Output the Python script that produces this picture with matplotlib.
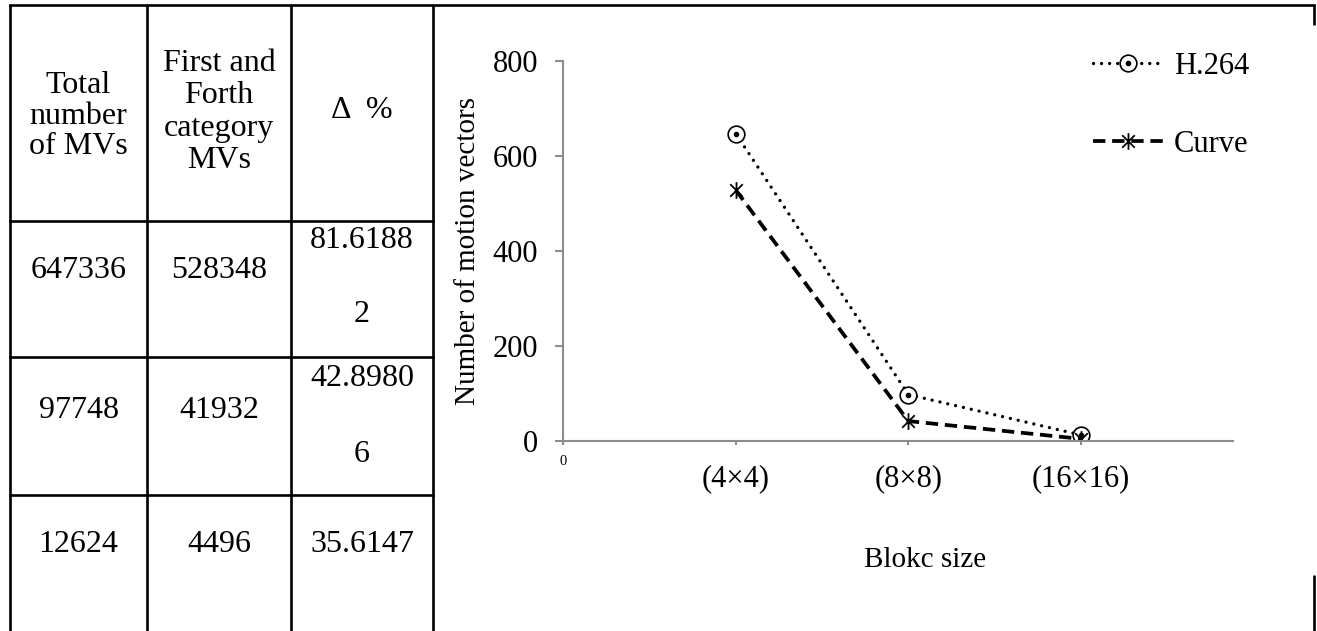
import matplotlib.pyplot as plt
from matplotlib.path import Path
import textwrap

plt.rcParams['font.family'] = ['Liberation Serif', 'DejaVu Serif']

# data
total_mvs = [647336, 97748, 12624]
first_forth_mvs = [528348, 41932, 4496]
delta_pct = ["81.61882", "42.89806", "35.6147"]
headers = ["Total\nnumber\nof MVs", "First and\nForth\ncategory\nMVs", "\u0394  %"]
block_sizes = ["(4\u00d74)", "(8\u00d78)", "(16\u00d716)"]
h264_vals = [v / 1000 for v in total_mvs]
curve_vals = [v / 1000 for v in first_forth_mvs]

W, H = 1317, 631
fig = plt.figure(figsize=(W / 100, H / 100), dpi=100)

# ---- table drawn on a full-figure pixel axes ----
bg = fig.add_axes([0, 0, 1, 1])
bg.set_xlim(0, W)
bg.set_ylim(H, 0)
bg.axis('off')

col_x = [10, 147, 291, 433]
row_y = [5, 221, 357, 495]
lw = 1.9
for x in col_x:
    bg.plot([x, x], [row_y[0], H], color='black', lw=lw, solid_capstyle='butt')
for y in row_y[1:]:
    bg.plot([col_x[0], col_x[-1]], [y, y], color='black', lw=lw)
bg.plot([col_x[0], 1314], [5, 5], color='black', lw=lw)
bg.plot([1314, 1314], [5, 25], color='black', lw=lw, solid_capstyle='butt')
bg.plot([1314, 1314], [575, H], color='black', lw=lw, solid_capstyle='butt')

fs = 23
centers = [(col_x[i] + col_x[i + 1]) / 2 for i in range(3)]
header_y = [116, 112, 110]
header_ls = [1.08, 1.16, 1.0]
for i, h in enumerate(headers):
    bg.text(centers[i], header_y[i], h, ha='center', va='center', fontsize=fs,
            linespacing=header_ls[i])

row_c = [271, 410, 545]
for r in range(3):
    bg.text(centers[0], row_c[r], str(total_mvs[r]), ha='center', va='center', fontsize=fs)
    bg.text(centers[1], row_c[r], str(first_forth_mvs[r]), ha='center', va='center', fontsize=fs)
    parts = textwrap.wrap(delta_pct[r], 7)
    if len(parts) > 1:
        bg.text(centers[2], row_c[r] - 31, parts[0], ha='center', va='center', fontsize=fs)
        bg.text(centers[2], row_c[r] + 44, parts[1], ha='center', va='center', fontsize=fs)
    else:
        bg.text(centers[2], row_c[r], parts[0], ha='center', va='center', fontsize=fs)

# asterisk marker: X plus vertical stroke
star = Path([(0, -1), (0, 1), (-0.75, -0.75), (0.75, 0.75), (-0.75, 0.75), (0.75, -0.75)],
            [Path.MOVETO, Path.LINETO] * 3)

# ---- line chart ----
ax = fig.add_axes([563 / W, 1 - 441 / H, 670 / W, 380 / H])
x = [1, 2, 3]
l1, = ax.plot(x, h264_vals, color='black', lw=2.4, linestyle=(0, (0.01, 2.4)),
              dash_capstyle='round', marker='o', ms=12, mfc='white', mec='black', mew=1.2)
d1, = ax.plot(x, h264_vals, linestyle='none', marker='o', ms=3, color='black')
l2, = ax.plot(x, curve_vals, color='black', lw=2.7, linestyle=(0, (3.3, 1.8)),
              marker=star, ms=12, mew=1.3, mec='black')

ax.set_xlim(0, 3.88)
ax.set_ylim(0, 800)
ax.set_yticks([0, 200, 400, 600, 800])
ax.set_xticks([0, 1, 2, 3])
ax.set_xticklabels([''] + block_sizes, fontsize=22)
ax.annotate('0', xy=(0, 0), xycoords='data', xytext=(0, -15), textcoords='offset points',
            ha='center', va='center', fontsize=10.5)
ax.tick_params(axis='x', length=3, width=1.5, color='#8c8c8c', pad=14)
ax.tick_params(axis='y', length=6, width=1.5, color='#8c8c8c', labelsize=22, pad=12)
for s in ['top', 'right']:
    ax.spines[s].set_visible(False)
for s in ['left', 'bottom']:
    ax.spines[s].set_color('#8c8c8c')
    ax.spines[s].set_linewidth(1.5)

ax.set_ylabel('Number of motion vectors', fontsize=21, labelpad=8)
fig.text(925 / W, 1 - 560 / H, 'Blokc size', ha='center', va='center', fontsize=21)

leg = ax.legend([(l1, d1), l2], ['H.264', 'Curve'], loc='upper left',
                bbox_to_anchor=(1093 / W, 1 - 52 / H), bbox_transform=fig.transFigure,
                frameon=False, fontsize=22, borderpad=0, borderaxespad=0,
                handlelength=2.3, handletextpad=0.35, labelspacing=1.6)

fig.savefig('out.png', dpi=100)
